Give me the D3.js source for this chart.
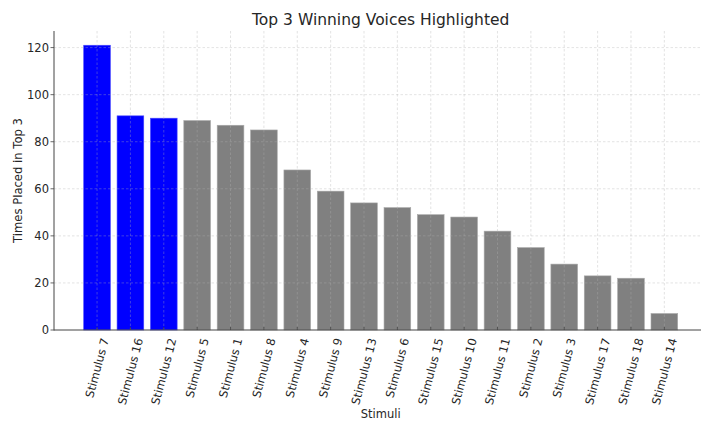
<!DOCTYPE html>
<html lang="en">

<head>
    <meta charset="UTF-8">
    <title>Top 3 Winning Voices Highlighted</title>
    <script src="https://d3js.org/d3.v7.min.js"></script>
    <style>
        body { margin: 0; background: #fff; }
        text { font-family: "DejaVu Sans", sans-serif; fill: #262626; }
    </style>
</head>

<body>
    <div id="chart"></div>
    <script>
        const width = 701;
        const height = 421;

        // Data
        const stimuli = ["Stimulus 7", "Stimulus 16", "Stimulus 12", "Stimulus 5", "Stimulus 1", "Stimulus 8",
            "Stimulus 4", "Stimulus 9", "Stimulus 13", "Stimulus 6", "Stimulus 15", "Stimulus 10",
            "Stimulus 11", "Stimulus 2", "Stimulus 3", "Stimulus 17", "Stimulus 18", "Stimulus 14"];
        const counts = [121, 91, 90, 89, 87, 85, 68, 59, 54, 52, 49, 48, 42, 35, 28, 23, 22, 7];
        const topCount = 3;
        const yTicks = [0, 20, 40, 60, 80, 100, 120];

        const margin = { left: 54, top: 31, bottom: 330, right: 707.4 };

        const svg = d3.select("#chart")
            .append("svg")
            .attr("width", width)
            .attr("height", height);

        // scales (matplotlib-like padding around the bars)
        const x = d3.scaleBand()
            .domain(stimuli)
            .range([margin.left, margin.right])
            .paddingInner(0.2)
            .paddingOuter(0.89);

        const y = d3.scaleLinear()
            .domain([0, d3.max(counts) * 1.05])
            .range([margin.bottom, margin.top]);

        const cx = d => x(d) + x.bandwidth() / 2;

        // bars
        svg.append("g")
            .selectAll("rect")
            .data(stimuli)
            .enter()
            .append("rect")
            .attr("x", d => x(d))
            .attr("y", (d, i) => y(counts[i]))
            .attr("width", x.bandwidth())
            .attr("height", (d, i) => y(0) - y(counts[i]))
            .attr("fill", (d, i) => i < topCount ? "#0000ff" : "#808080")
            .attr("stroke", (d, i) => i < topCount ? "#4a4aff" : "#a8a8a8")
            .attr("stroke-width", 0.6);

        // grid on top of the bars
        const grid = svg.append("g")
            .attr("stroke", "#b0b0b0")
            .attr("stroke-opacity", 0.45)
            .attr("stroke-width", 0.8)
            .attr("stroke-dasharray", "2.5,2");

        grid.selectAll("line.h")
            .data(yTicks.slice(1))
            .enter()
            .append("line")
            .attr("x1", margin.left)
            .attr("x2", width)
            .attr("y1", d => y(d))
            .attr("y2", d => y(d));

        grid.selectAll("line.v")
            .data(stimuli)
            .enter()
            .append("line")
            .attr("x1", cx)
            .attr("x2", cx)
            .attr("y1", margin.top)
            .attr("y2", margin.bottom);

        // tick marks
        svg.append("g")
            .attr("stroke", "#444")
            .attr("stroke-width", 0.8)
            .selectAll("line")
            .data(yTicks)
            .enter()
            .append("line")
            .attr("x1", margin.left - 3.5)
            .attr("x2", margin.left)
            .attr("y1", d => y(d))
            .attr("y2", d => y(d));

        svg.append("g")
            .attr("stroke", "#444")
            .attr("stroke-width", 0.8)
            .selectAll("line")
            .data(stimuli)
            .enter()
            .append("line")
            .attr("x1", cx)
            .attr("x2", cx)
            .attr("y1", margin.bottom - 3)
            .attr("y2", margin.bottom);

        // spines
        svg.append("line")
            .attr("x1", margin.left).attr("x2", margin.left)
            .attr("y1", margin.top).attr("y2", margin.bottom + 0.5)
            .attr("stroke", "#444").attr("stroke-width", 1);
        svg.append("line")
            .attr("x1", margin.left).attr("x2", width)
            .attr("y1", margin.bottom).attr("y2", margin.bottom)
            .attr("stroke", "#444").attr("stroke-width", 1);

        // y axis tick labels
        svg.append("g")
            .selectAll("text")
            .data(yTicks)
            .enter()
            .append("text")
            .attr("x", margin.left - 5)
            .attr("y", d => y(d))
            .attr("dy", "0.36em")
            .attr("text-anchor", "end")
            .attr("font-size", 11.5)
            .text(d => d);

        // x axis tick labels, rotated 75 degrees, centred under each bar
        const fs = 11.5;
        const ang = 75 * Math.PI / 180;
        svg.append("g")
            .selectAll("text")
            .data(stimuli)
            .enter()
            .append("text")
            .attr("font-size", fs)
            .attr("text-anchor", "middle")
            .attr("dominant-baseline", "central")
            .text(d => d)
            .each(function (d) {
                const len = this.getComputedTextLength();
                const boxH = len * Math.sin(ang) + fs * Math.cos(ang);
                const cy = margin.bottom + 7 + boxH / 2;
                d3.select(this).attr("transform", `translate(${cx(d)},${cy}) rotate(-75)`);
            });

        // title and axis labels
        svg.append("text")
            .attr("x", (margin.left + margin.right) / 2)
            .attr("y", 25)
            .attr("text-anchor", "middle")
            .attr("font-size", 15.5)
            .text("Top 3 Winning Voices Highlighted");

        svg.append("text")
            .attr("x", (margin.left + margin.right) / 2)
            .attr("y", 418)
            .attr("text-anchor", "middle")
            .attr("font-size", 11.5)
            .text("Stimuli");

        svg.append("text")
            .attr("transform", `translate(22,${(margin.top + margin.bottom) / 2}) rotate(-90)`)
            .attr("text-anchor", "middle")
            .attr("font-size", 11.6)
            .text("Times Placed in Top 3");
    </script>
</body>

</html>
